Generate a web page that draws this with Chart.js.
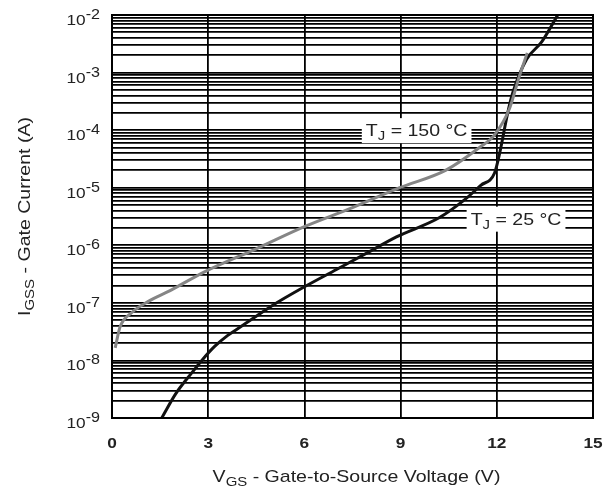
<!DOCTYPE html>
<html>
<head>
<meta charset="utf-8">
<title>Gate Current vs Gate-to-Source Voltage</title>
<script src="https://cdn.jsdelivr.net/npm/chart.js@4.4.0/dist/chart.umd.min.js"></script>
<style>
  html, body { margin: 0; padding: 0; background: #fff; }
  #wrap { width: 616px; height: 490px; }
</style>
</head>
<body>
<div id="wrap"><canvas id="gate-chart" width="616" height="490"></canvas></div>
<script>
// ---- values ----
const xTickValues = [0, 3, 6, 9, 12, 15];
const yTickExponents = [-9, -8, -7, -6, -5, -4, -3, -2];

// TJ = 25 °C (black)
const vgs25 = [1.55, 2.0, 2.5, 2.8, 3.2, 3.6, 4.0, 4.45, 5.0, 6.0, 7.0, 8.0, 8.87, 10.2, 11.0, 11.5, 11.93, 12.09, 12.34, 12.5, 12.93, 13.4, 13.9];
const igss25 = [1.0e-9, 2.7e-9, 6.2e-9, 1.0e-8, 1.75e-8, 2.7e-8, 3.8e-8, 5.6e-8, 9.0e-8, 1.9e-7, 3.8e-7, 7.6e-7, 1.4e-6, 3.0e-6, 6.2e-6, 1.1e-5, 1.8e-5, 4.0e-5, 2.0e-4, 4.5e-4, 1.7e-3, 3.4e-3, 1.0e-2];

// TJ = 150 °C (grey)
const vgs150 = [0.1, 0.25, 0.62, 1.12, 1.87, 2.9, 4.5, 6.0, 7.5, 8.97, 10.4, 11.46, 11.93, 12.4, 12.7, 12.95];
const igss150 = [1.65e-8, 3.8e-8, 6.8e-8, 1.05e-7, 1.7e-7, 3.5e-7, 8.7e-7, 2.1e-6, 4.5e-6, 1.0e-5, 2.0e-5, 5.0e-5, 8.3e-5, 2.4e-4, 8.5e-4, 2.2e-3];

const seriesNames = ['150 °C', '25 °C'];

// ---- text / style settings ----
const FONT = '"Liberation Sans", Arial, Helvetica, sans-serif';
const STRETCH = 1.15;          // reference lettering is a bit wide
const TEXT_COLOR = '#222';

// curve labels, anchored in data units
const curveNotes = [
    { x: 9.5, y: 1.0e-4, temp: '150' },
    { x: 12.6, y: 2.9e-6, temp: '25' }
];

function toPoints(xs, ys) {
    return xs.map((v, i) => ({ x: v, y: ys[i] }));
}

// Draw text made of parts (for sub/superscripts)
function richWidth(ctx, parts) {
    let w = 0;
    parts.forEach(p => {
        ctx.font = `${p.weight || 'normal'} ${p.size}px ${FONT}`;
        w += ctx.measureText(p.text).width;
    });
    return w * STRETCH;
}

function drawRich(ctx, parts, x, y, align) {
    const w = richWidth(ctx, parts);
    let start = x;
    if (align === 'right') start = x - w;
    if (align === 'center') start = x - w / 2;
    ctx.save();
    ctx.translate(start, y);
    ctx.scale(STRETCH, 1);
    ctx.textAlign = 'left';
    ctx.textBaseline = 'alphabetic';
    ctx.fillStyle = TEXT_COLOR;
    let cx = 0;
    parts.forEach(p => {
        ctx.font = `${p.weight || 'normal'} ${p.size}px ${FONT}`;
        ctx.fillText(p.text, cx, p.dy || 0);
        cx += ctx.measureText(p.text).width;
    });
    ctx.restore();
    return w;
}

const textPlugin = {
    id: 'gateText',
    // curve labels sit on top of the grid but under the curves
    beforeDatasetsDraw(chart) {
        const ctx = chart.ctx;
        const xs = chart.scales.x;
        const ys = chart.scales.y;
        curveNotes.forEach(note => {
            const parts = [
                { text: 'T', size: 17 },
                { text: 'J', size: 13, dy: 4 },
                { text: ' = ' + note.temp + ' °C', size: 17 }
            ];
            const w = richWidth(ctx, parts);
            const cx = xs.getPixelForValue(note.x);
            const cy = ys.getPixelForValue(note.y);
            ctx.save();
            ctx.fillStyle = '#fff';
            ctx.fillRect(cx - w / 2 - 4, cy - 12, w + 8, 25);
            ctx.restore();
            drawRich(ctx, parts, cx, cy + 6, 'center');
        });
    },
    afterDraw(chart) {
        const ctx = chart.ctx;
        const area = chart.chartArea;
        const xs = chart.scales.x;
        const ys = chart.scales.y;

        // frame
        ctx.save();
        ctx.strokeStyle = '#000';
        ctx.lineWidth = 2;
        ctx.strokeRect(area.left, area.top, area.right - area.left, area.bottom - area.top);
        ctx.restore();

        // y tick labels 10^n
        yTickExponents.forEach(e => {
            const py = ys.getPixelForValue(Math.pow(10, e));
            drawRich(ctx, [
                { text: '10', size: 15 },
                { text: String(e), size: 14, dy: -6 }
            ], area.left - 12, py + 10, 'right');
        });

        // x tick labels
        xTickValues.forEach(v => {
            drawRich(ctx, [{ text: String(v), size: 15, weight: 'bold' }],
                xs.getPixelForValue(v), area.bottom + 30, 'center');
        });

        // x axis title
        drawRich(ctx, [
            { text: 'V', size: 17 },
            { text: 'GS', size: 13, dy: 4 },
            { text: ' - Gate-to-Source Voltage (V)', size: 17 }
        ], (area.left + area.right) / 2 + 4, area.bottom + 64, 'center');

        // y axis title (rotated)
        ctx.save();
        ctx.translate(30, (area.top + area.bottom) / 2);
        ctx.rotate(-Math.PI / 2);
        drawRich(ctx, [
            { text: 'I', size: 17 },
            { text: 'GSS', size: 13, dy: 4 },
            { text: ' - Gate Current (A)', size: 17 }
        ], 0, 0, 'center');
        ctx.restore();
    }
};

const gridStyle = {
    color: '#000',
    lineWidth: 1.8,
    drawTicks: false
};

const gateChart = new Chart(document.getElementById('gate-chart'), {
    type: 'line',
    data: {
        datasets: [
            {
                label: seriesNames[0],
                data: toPoints(vgs150, igss150),
                borderColor: '#858585',
                borderWidth: 3,
                pointRadius: 0,
                cubicInterpolationMode: 'monotone'
            },
            {
                label: seriesNames[1],
                data: toPoints(vgs25, igss25),
                borderColor: '#111',
                borderWidth: 3,
                pointRadius: 0,
                cubicInterpolationMode: 'monotone'
            }
        ]
    },
    options: {
        responsive: false,
        animation: false,
        layout: { padding: { left: 112, right: 23, top: 15, bottom: 72 } },
        plugins: {
            legend: { display: false },
            tooltip: { enabled: false }
        },
        scales: {
            x: {
                type: 'linear',
                min: 0,
                max: 15,
                ticks: { display: false },
                afterBuildTicks: scale => {
                    scale.ticks = xTickValues.map(v => ({ value: v }));
                },
                grid: gridStyle,
                border: { color: '#000', width: 2 }
            },
            y: {
                type: 'logarithmic',
                min: 1e-9,
                max: 1e-2,
                ticks: { display: false },
                afterBuildTicks: scale => {
                    const ticks = [];
                    yTickExponents.forEach((e, i) => {
                        const last = i === yTickExponents.length - 1;
                        for (let m = 1; m <= (last ? 1 : 9); m++) {
                            ticks.push({ value: m * Math.pow(10, e) });
                        }
                    });
                    scale.ticks = ticks;
                },
                grid: gridStyle,
                border: { color: '#000', width: 2 }
            }
        }
    },
    plugins: [textPlugin]
});
</script>
</body>
</html>
